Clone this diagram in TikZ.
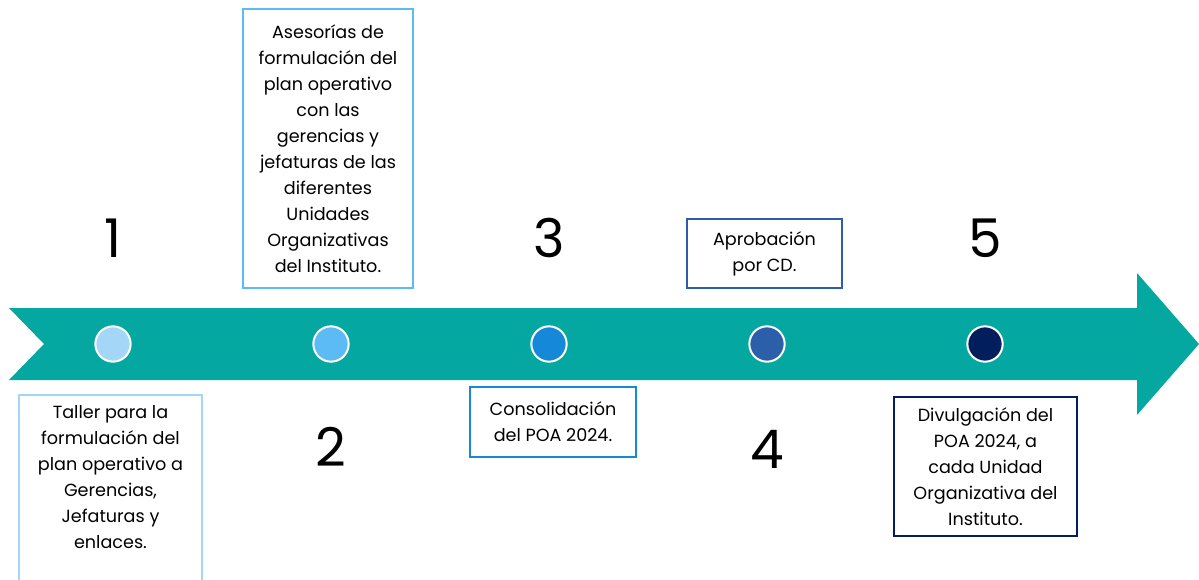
\documentclass[tikz,border=0pt]{standalone}
\usepackage{fontspec}
\setmainfont{Poppins}
\definecolor{teal}{HTML}{05A8A0}
\definecolor{dotA}{HTML}{A3D6F7}
\definecolor{dotB}{HTML}{5CBAF5}
\definecolor{dotC}{HTML}{1588D8}
\definecolor{dotD}{HTML}{2B5FA9}
\definecolor{dotE}{HTML}{031E5C}
\begin{document}
\begin{tikzpicture}[x=0.75pt, y=-0.75pt,
	dot/.style={circle, draw=white, line width=1.5pt, minimum size=26.5pt, inner sep=0pt},
	boxline/.style={draw, line width=1.5pt, inner sep=0pt, font=\fontsize{13.2}{19.5}\selectfont},
	stepbox/.style={boxline, align=center},
	num/.style={font=\fontsize{40}{40}\selectfont}]
		\useasboundingbox (0,0) rectangle (1199,579);

		% Draw arrow
		\fill[teal] (9,308) -- (1137,308) -- (1137,273) -- (1199,344) -- (1137,415)
			-- (1137,380) -- (9,380) -- (44,344) -- cycle;

		% Dots on the arrow
		\node[dot, fill=dotA] (c1) at (113,344) {};
		\node[dot, fill=dotB] (c2) at (331,344) {};
		\node[dot, fill=dotC] (c3) at (549,344) {};
		\node[dot, fill=dotD] (c4) at (767,344) {};
		\node[dot, fill=dotE] (c5) at (985,344) {};

		% Numbers
		\node[num] (n1) at (113,238) {1};
		\node[num] (n2) at (331,447) {2};
		\node[num] (n3) at (549,238) {3};
		\node[num] (n4) at (767,449) {4};
		\node[num] (n5) at (985,238) {5};

		% Boxes
		\node[boxline, draw=dotA, anchor=north, inner ysep=8pt, minimum width=137.25pt] (b1) at (110.5,394)
			{\parbox[t][150pt][t]{134pt}{\centering Taller para la\\ formulación del\\ plan operativo a\\ Gerencias,\\ Jefaturas y\\ enlaces.}};
		\node[stepbox, draw=dotB, minimum width=127.5pt, minimum height=209.25pt] (b2) at (328,148.5)
			{Asesorías de\\ formulación del\\ plan operativo\\ con las\\ gerencias y\\ jefaturas de las\\ diferentes\\ Unidades\\ Organizativas\\ del Instituto.};
		\node[stepbox, draw=dotC, minimum width=124.5pt, minimum height=52.5pt] (b3) at (553,422)
			{Consolidación\\ del POA 2024.};
		\node[stepbox, draw=dotD, minimum width=116.25pt, minimum height=51.75pt] (b4) at (764.5,253.5)
			{Aprobación\\ por CD.};
		\node[stepbox, draw=dotE, minimum width=137.25pt, minimum height=104.25pt] (b5) at (985.5,466.5)
			{Divulgación del\\ POA 2024, a\\ cada Unidad\\ Organizativa del\\ Instituto.};
	\end{tikzpicture}
\end{document}
